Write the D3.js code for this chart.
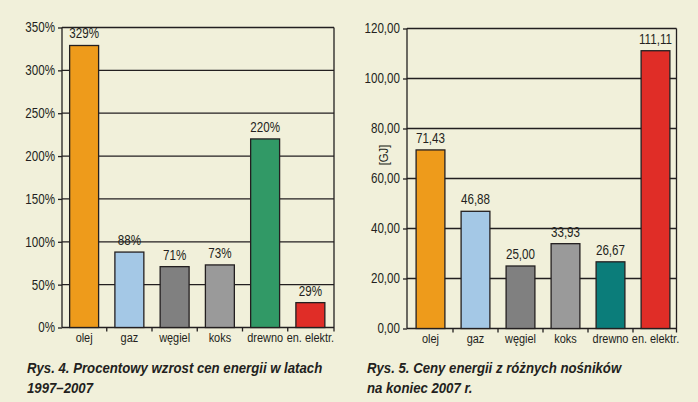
<!DOCTYPE html>
<html><head><meta charset="utf-8">
<script src="https://cdn.jsdelivr.net/npm/d3@7"></script>
<style>
html,body{margin:0;padding:0;background:#F1F0DA;}
svg{display:block;}
text{font-family:"Liberation Sans",Arial,sans-serif;fill:#231f20;}
</style></head><body>
<svg id="c" width="698" height="402"></svg>
<script>
const categories = ["olej","gaz","węgiel","koks","drewno","en. elektr."];
const growthValues = [329, 88, 71, 73, 220, 29];
const growthLabels = ["329%","88%","71%","73%","220%","29%"];
const growthTicks = [0,50,100,150,200,250,300,350];
const growthColors = ["#EE9B1B","#A4C8E6","#808080","#9A9A9A","#319966","#E02D27"];
const priceValues = [71.43, 46.88, 25.00, 33.93, 26.67, 111.11];
const priceTicks = [0,20,40,60,80,100,120];
const priceColors = ["#EE9B1B","#A4C8E6","#808080","#9A9A9A","#0B7D7A","#E02D27"];
const caption1 = ["Rys. 4. Procentowy wzrost cen energii w latach","1997–2007"];
const caption2 = ["Rys. 5. Ceny energii z różnych nośników","na koniec 2007 r."];

const svg = d3.select("#c");
const fmtComma = v => d3.format(".2f")(v).replace(".", ",");
const SX = 0.83;
function narrow(sel, s){
  sel.each(function(){
    const x = +(this.getAttribute("x")||0);
    const prev = this.getAttribute("transform")||"";
    this.setAttribute("transform", prev+` translate(${x},0) scale(${s},1) translate(${-x},0)`);
  });
}

function chart(o){
  const g = svg.append("g");
  const x = d3.scaleBand().domain(categories).range([o.bx0,o.bx1]).paddingInner(0.36).paddingOuter(0.18);
  const y = d3.scaleLinear().domain([0,o.max]).range([o.y0,o.y1]);
  g.selectAll("line.grid").data(o.ticks).join("line")
    .attr("x1",o.fx0).attr("x2",o.fx1).attr("y1",d=>y(d)).attr("y2",d=>y(d))
    .attr("stroke","#231f20").attr("stroke-width",1.3);
  g.append("line").attr("x1",o.fx1).attr("x2",o.fx1).attr("y1",y(o.max)).attr("y2",y(0)+4).attr("stroke","#231f20").attr("stroke-width",1.3);
  g.selectAll("rect").data(o.values).join("rect")
    .attr("x",(d,i)=>x(categories[i])).attr("width",x.bandwidth())
    .attr("y",d=>y(d)).attr("height",d=>y(0)-y(d))
    .attr("fill",(d,i)=>o.colors[i]).attr("stroke","#231f20").attr("stroke-width",1.3);
  const vl = g.selectAll("text.val").data(o.values).join("text").attr("class","val")
    .attr("x",(d,i)=>x(categories[i])+x.bandwidth()/2).attr("y",d=>y(d)-7)
    .attr("text-anchor","middle").attr("font-size",14)
    .text((d,i)=>o.labels[i]);
  narrow(vl, SX);
  const ya = g.append("g").attr("transform",`translate(${o.fx0},0)`)
    .call(d3.axisLeft(y).tickValues(o.ticks).tickSize(4).tickPadding(3).tickFormat(o.fmt));
  ya.select(".domain").remove();
  ya.selectAll(".tick line").attr("stroke","#231f20").attr("stroke-width",1.3);
  ya.selectAll("text").attr("font-size",14).attr("font-family",null).attr("fill","#231f20");
  narrow(ya.selectAll("text"), SX);
  g.append("line").attr("x1",o.fx0).attr("x2",o.fx0).attr("y1",y(o.max)).attr("y2",y(0)).attr("stroke","#231f20").attr("stroke-width",1.3);
  const xa = g.append("g").attr("transform",`translate(0,${y(0)})`)
    .call(d3.axisBottom(x).tickSize(0).tickPadding(5));
  xa.select(".domain").remove();
  xa.selectAll("text").attr("font-size",13.5).attr("font-family",null).attr("fill","#231f20");
  narrow(xa.selectAll("text"), 0.81);
  g.selectAll("line.sep").data(categories.slice(1)).join("line")
    .attr("x1",d=>x(d)-x.step()*x.paddingInner()/2).attr("x2",d=>x(d)-x.step()*x.paddingInner()/2)
    .attr("y1",y(0)).attr("y2",y(0)+4).attr("stroke","#231f20").attr("stroke-width",1.3);
  if(o.ylab){
    g.append("text").attr("transform",`translate(${o.ylabX},${o.ylabY}) rotate(-90) scale(${SX},1)`)
      .attr("text-anchor","middle").attr("font-size",13.5).text(o.ylab);
  }
  const cap = g.append("text").attr("x",o.capX).attr("font-size",15).attr("font-weight","bold").attr("font-style","italic");
  o.caption.forEach((t,i)=>cap.append("tspan").attr("x",o.capX).attr("y",373+i*20).text(t));
  narrow(cap, 0.88);
}

chart({bx0:61.5,bx1:333,fx0:62,fx1:334,y0:327.5,y1:27.5,max:350,ticks:growthTicks,values:growthValues,labels:growthLabels,colors:growthColors,fmt:d=>d+"%",caption:caption1,capX:27});
chart({bx0:408,bx1:678,fx0:407,fx1:676.5,y0:328.5,y1:28.5,max:120,ticks:priceTicks,values:priceValues,labels:priceValues.map(fmtComma),colors:priceColors,fmt:fmtComma,caption:caption2,capX:367,ylab:"[GJ]",ylabX:388,ylabY:155});
</script></body></html>
